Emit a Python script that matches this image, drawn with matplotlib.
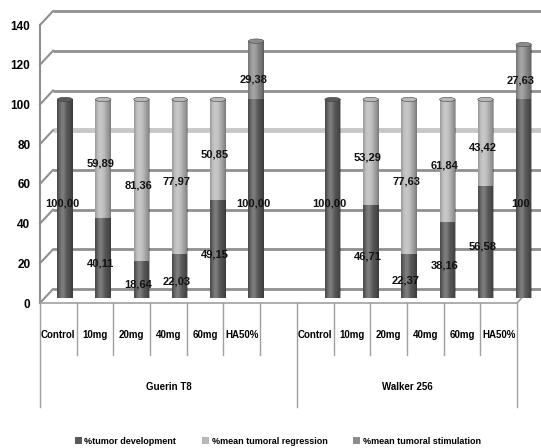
import numpy as np
import matplotlib
matplotlib.use('Agg')
import matplotlib.pyplot as plt
from matplotlib.patches import Patch, Ellipse

plt.rcParams['font.family'] = ['Liberation Sans', 'DejaVu Sans']
plt.rcParams['font.weight'] = 'bold'

# Data: % of tumor development / regression / stimulation per treatment
groups = ['Guerin T8', 'Walker 256']
treatments = ['Control', '10mg', '20mg', '40mg', '60mg', 'HA50%']
guerin_dev = [100.00, 40.11, 18.64, 22.03, 49.15, 100.00]
guerin_reg = [0, 59.89, 81.36, 77.97, 50.85, 0]
guerin_stim = [0, 0, 0, 0, 0, 29.38]
walker_dev = [100.00, 46.71, 22.37, 38.16, 56.58, 100]
walker_reg = [0, 53.29, 77.63, 61.84, 43.42, 0]
walker_stim = [0, 0, 0, 0, 0, 27.63]
series_names = ['%tumor development', '%mean tumoral regression', '%mean tumoral stimulation']
colors = ['#5a5a5a', '#b8b8b8', '#8c8c8c']

# 13 category slots: Guerin (0-5), empty slot (6), Walker (7-12)
slots = list(range(6)) + list(range(7, 13))
dev = guerin_dev + walker_dev
reg = guerin_reg + walker_reg
stim = guerin_stim + walker_stim


def fmt(v):
    return f'{v:.2f}'.replace('.', ',')


dev_labels = [fmt(v) for v in dev]
dev_labels[-1] = '100'

W, H = 541, 448
fig = plt.figure(figsize=(W / 100, H / 100), dpi=100)
# main axes in pixel geometry
left, right, bottom, top = 40, 517, 303, 25
ax = fig.add_axes([left / W, 1 - bottom / H, (right - left) / W, (bottom - top) / H])
ax.set_xlim(0, 13)
ax.set_ylim(0, 140)
for s in ax.spines.values():
    s.set_visible(False)
ax.set_xticks([])
ax.set_yticks(range(0, 141, 20))
ax.tick_params(axis='y', length=0, pad=7, labelsize=8.5)

# fake 3D: back wall shifted up/right
dx, dy = 0.354, 7.0
wall_c = '#8f8f8f'
for v in range(0, 141, 20):
    lc, lw = (wall_c, 2.0)
    if v == 80:
        lc, lw = ('#c8c8c8', 3.5)
    ax.plot([dx, 13.7], [v + dy, v + dy], color=lc, lw=lw, clip_on=False, zorder=1,
            solid_capstyle='butt')
    ax.plot([0, dx], [v, v + dy], color=wall_c, lw=1.5, clip_on=False, zorder=1)
ax.plot([0, 0], [0, 140], color=wall_c, lw=1.5, clip_on=False, zorder=2)
ax.plot([0, 13], [0, 0], color='#a0a0a0', lw=1.2, clip_on=False, zorder=2)
ax.plot([13, 13 + dx], [0, dy], color='#a0a0a0', lw=1.2, clip_on=False, zorder=2)

# bars (cylinders), slight perspective spread
persp, shift, lift = 1.042, 0.68, 2.5
bw = 0.42
bx = np.array(slots) * persp + shift
bottoms = np.full(len(bx), lift)
shade = np.zeros((1, 64, 4))
t = np.linspace(0, 1, 64)
hl = np.exp(-((t - 0.35) / 0.18) ** 2)
edge = np.clip(np.abs(t - 0.4) / 0.6, 0, 1) ** 2
shade[0, :, :3] = (hl > edge)[:, None] * 1.0
shade[0, :, 3] = np.maximum(hl * 0.22, edge * 0.35)

tops = bottoms.copy()
for vals, c in zip([dev, reg, stim], colors):
    vals = np.array(vals, dtype=float)
    bars = ax.bar(bx, vals, bw, bottom=tops, color=c, edgecolor='none', zorder=3, clip_on=False)
    for rect, v in zip(bars, vals):
        if v <= 0:
            continue
        x0, y0 = rect.get_x(), rect.get_y()
        im = ax.imshow(shade, extent=[x0, x0 + bw, y0, y0 + v], aspect='auto', zorder=4,
                       interpolation='bilinear')
        im.set_clip_path(rect)
    tops = tops + vals

# top caps
top_cols = [colors[2] if s > 0 else (colors[1] if r > 0 else colors[0])
            for s, r in zip(stim, reg)]
for x, ttop, c in zip(bx, tops, top_cols):
    ax.add_patch(Ellipse((x, ttop), bw, 2.2, facecolor=c, edgecolor='#444444', lw=0.4,
                         zorder=5, clip_on=False))
ax.set_xlim(0, 13)
ax.set_ylim(0, 140)

# value labels at segment centres
lab_kw = dict(ha='center', va='center', fontsize=8, zorder=6, color='#111111')
for i, x in enumerate(bx):
    ax.text(x - 0.08, dev[i] / 2, dev_labels[i], **lab_kw)
    if reg[i] > 0:
        ax.text(x - 0.08, dev[i] + reg[i] / 2, fmt(reg[i]), **lab_kw)
    if stim[i] > 0:
        ax.text(x - 0.08, dev[i] + stim[i] / 2 - 2, fmt(stim[i]), **lab_kw)

# category table under the axis
tr = ax.get_xaxis_transform()
hpx = bottom - top
sep_c = '#a0a0a0'
for k in range(14):
    if k in (0, 7, 13):
        ax.plot([k, k], [0, -104 / hpx], color=sep_c, lw=1.0, transform=tr, clip_on=False)
    else:
        ax.plot([k, k], [0, -52 / hpx], color=sep_c, lw=1.0, transform=tr, clip_on=False)
for s in slots:
    ax.text(s + 0.5, -32 / hpx, treatments[s if s < 6 else s - 7], transform=tr,
            ha='center', va='center', fontsize=7)
ax.text(3.5, -84 / hpx, groups[0], transform=tr, ha='center', va='center', fontsize=7)
ax.text(10.0, -84 / hpx, groups[1], transform=tr, ha='center', va='center', fontsize=7)

handles = [Patch(facecolor=c, edgecolor='none') for c in colors]
fig.legend(handles, series_names, loc='center', bbox_to_anchor=(0.513, 1 - 441 / H), ncol=3,
           frameon=False, fontsize=6.5, handlelength=0.8, handleheight=0.8, handletextpad=0.3,
           columnspacing=2.8)

fig.savefig('out.png', dpi=100, facecolor='white')
